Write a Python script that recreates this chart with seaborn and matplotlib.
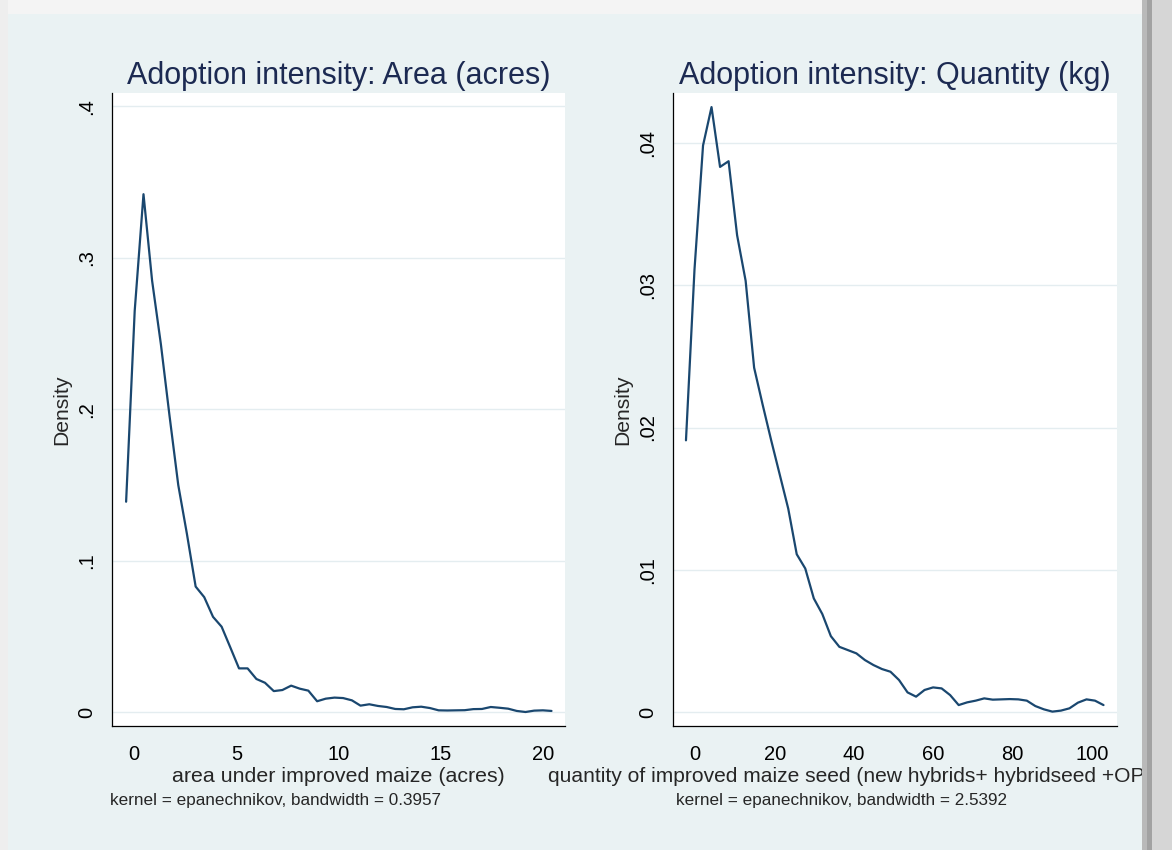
import matplotlib
matplotlib.use("Agg")
import matplotlib.pyplot as plt
import seaborn as sns
from matplotlib.patches import Rectangle
from matplotlib.transforms import Bbox, TransformedBbox

# kernel density estimates (50 points each)
area_x = [-0.40, 0.02, 0.45, 0.87, 1.30, 1.72, 2.15, 2.57, 3.00, 3.42,
          3.85, 4.27, 4.69, 5.12, 5.54, 5.97, 6.39, 6.82, 7.24, 7.67,
          8.09, 8.51, 8.94, 9.36, 9.79, 10.21, 10.64, 11.06, 11.49, 11.91,
          12.34, 12.76, 13.18, 13.61, 14.03, 14.46, 14.88, 15.31, 15.73, 16.16,
          16.58, 17.00, 17.43, 17.85, 18.28, 18.70, 19.13, 19.55, 19.98, 20.40]
area_density = [0.139, 0.265, 0.342, 0.285, 0.243, 0.196, 0.150, 0.118, 0.083, 0.076,
                0.063, 0.0565, 0.043, 0.029, 0.029, 0.022, 0.0195, 0.014, 0.0147, 0.0176,
                0.0156, 0.0143, 0.0073, 0.009, 0.0097, 0.0094, 0.0079, 0.0044, 0.0053, 0.0042,
                0.0035, 0.0022, 0.002, 0.0033, 0.0037, 0.0028, 0.0013, 0.0012, 0.0013, 0.0014,
                0.0021, 0.0022, 0.0035, 0.003, 0.0024, 0.0009, 0.0002, 0.0011, 0.0013, 0.0009]

qty_x = [-2.35, -0.20, 1.95, 4.09, 6.24, 8.39, 10.54, 12.69, 14.83, 16.98,
         19.13, 21.28, 23.43, 25.57, 27.72, 29.87, 32.02, 34.17, 36.31, 38.46,
         40.61, 42.76, 44.91, 47.05, 49.20, 51.35, 53.50, 55.65, 57.79, 59.94,
         62.09, 64.24, 66.39, 68.53, 70.68, 72.83, 74.98, 77.13, 79.27, 81.42,
         83.57, 85.72, 87.87, 90.01, 92.16, 94.31, 96.46, 98.61, 100.75, 102.90]
qty_density = [0.0191, 0.0311, 0.0398, 0.0425, 0.0383, 0.0387, 0.0335, 0.0303, 0.0242, 0.0216,
               0.0191, 0.0167, 0.0143, 0.0111, 0.0101, 0.0080, 0.0069, 0.00535, 0.0046, 0.00437,
               0.00414, 0.00367, 0.00332, 0.00304, 0.00285, 0.00227, 0.0014, 0.0011, 0.00157, 0.00175,
               0.00168, 0.00121, 0.00051, 0.0007, 0.00082, 0.00098, 0.00089, 0.00091, 0.00093, 0.00091,
               0.00082, 0.00044, 0.00021, 0.00005, 0.00012, 0.00028, 0.00068, 0.00091, 0.00082, 0.00051]

area_xticks = [0, 5, 10, 15, 20]
area_yticks = [0, 0.1, 0.2, 0.3, 0.4]
area_yticklabels = ["0", ".1", ".2", ".3", ".4"]
qty_xticks = [0, 20, 40, 60, 80, 100]
qty_yticks = [0, 0.01, 0.02, 0.03, 0.04]
qty_yticklabels = ["0", ".01", ".02", ".03", ".04"]

titles = ["Adoption intensity: Area (acres)", "Adoption intensity: Quantity (kg)"]
xlabels = ["area under improved maize (acres)",
           "quantity of improved maize seed (new hybrids+ hybridseed +OP"]
notes = ["kernel = epanechnikov, bandwidth = 0.3957",
         "kernel = epanechnikov, bandwidth = 2.5392"]

W, H = 1172, 850
line_color = "#1a476f"
title_color = "#1c2a52"
panel_color = "#eaf2f3"

sns.set_style("white")
plt.rcParams["font.family"] = ["Liberation Sans", "DejaVu Sans"]

fig = plt.figure(figsize=(W / 100, H / 100), dpi=100)
fig.patch.set_facecolor("#f3f3f3")


def px_rect(x0, y0, x1, y1, color, z=-10):
    # rectangle given in image pixels (origin top-left)
    fig.add_artist(Rectangle((x0 / W, 1 - y1 / H), (x1 - x0) / W, (y1 - y0) / H,
                             transform=fig.transFigure, facecolor=color,
                             edgecolor="none", zorder=z))


# window frame / shadow around the graph panel
px_rect(0, 0, W, 14, "#f4f4f4")
px_rect(0, 0, 8, H, "#eeeeee")
px_rect(8, 14, 1142, H, panel_color)
px_rect(1142, 0, 1147, H, "#b9b9b9")
px_rect(1147, 0, 1152, H, "#a2a2a2")
px_rect(1152, 0, W, H, "#d6d6d6")


def draw_panel(rect, x, y, xticks, yticks, yticklabels, xlim, ylim, title):
    ax = fig.add_axes(rect)
    ax.set_facecolor("white")
    sns.lineplot(x=x, y=y, ax=ax, color=line_color, linewidth=1.6,
                 sort=False, estimator=None)
    ax.set_xlim(*xlim)
    ax.set_ylim(*ylim)
    ax.set_xticks(xticks)
    ax.set_xticklabels([str(t) for t in xticks])
    ax.set_yticks(yticks)
    ax.set_yticklabels(yticklabels, rotation=90, va="center")
    ax.tick_params(axis="both", direction="out", length=6.5, width=0.8,
                   labelsize=14.5, colors="black", pad=5)
    ax.tick_params(axis="x", pad=7)
    ax.yaxis.grid(True, color="#e4edf0", linewidth=1.0)
    ax.xaxis.grid(False)
    for side in ["top", "right"]:
        ax.spines[side].set_visible(False)
    for side in ["left", "bottom"]:
        ax.spines[side].set_color("black")
        ax.spines[side].set_linewidth(0.9)
    ax.set_xlabel("")
    ax.set_ylabel("Density", fontsize=15.2, labelpad=4)
    ax.set_title(title, fontsize=22, color=title_color, pad=6.5)
    return ax


bottom = 1 - 726 / H
height = (726 - 93) / H
ax1 = draw_panel([112 / W, bottom, (565 - 112) / W, height],
                 area_x, area_density, area_xticks, area_yticks, area_yticklabels,
                 (-1.09, 21.06), (-0.00904, 0.4088), titles[0])
ax2 = draw_panel([673 / W, bottom, (1117 - 673) / W, height],
                 qty_x, qty_density, qty_xticks, qty_yticks, qty_yticklabels,
                 (-5.62, 106.3), (-0.00096, 0.04349), titles[1])

# axis titles and notes placed as in the picture
fig.text(338 / W, 1 - 777 / H, xlabels[0], fontsize=15.4, ha="center", va="center")
t = fig.text(548 / W, 1 - 777 / H, xlabels[1], fontsize=15.1, ha="left", va="center")
t.set_clip_box(TransformedBbox(Bbox([[0, 0], [1142 / W, 1]]), fig.transFigure))
t.set_clip_on(True)
fig.text(110 / W, 1 - 801 / H, notes[0], fontsize=12.3, ha="left", va="center")
fig.text(676 / W, 1 - 801 / H, notes[1], fontsize=12.3, ha="left", va="center")

fig.savefig("out.png", dpi=100, facecolor=fig.get_facecolor())
